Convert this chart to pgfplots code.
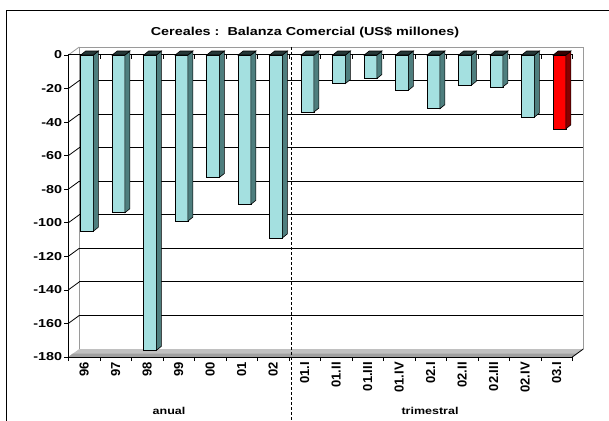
\documentclass[border=0pt]{standalone}
\usepackage{pgfplots}
\pgfplotsset{compat=1.18}
\usepackage{pgfplotstable}
\usepackage{graphicx}
\usepackage{fontspec}
\setmainfont{Liberation Sans}

\definecolor{faceteal}{HTML}{A4E0E0}
\definecolor{sideteal}{HTML}{4E7E7E}
\definecolor{topteal}{HTML}{263838}
\definecolor{facered}{HTML}{FF0000}
\definecolor{sidered}{HTML}{8A0000}
\definecolor{topred}{HTML}{3A0000}
\definecolor{floorgray}{HTML}{C0C0C0}
\definecolor{floordark}{HTML}{A0A0A0}
\definecolor{wallgray}{HTML}{9A9A9A}

% category position (centre of slot) and balance in US$ millions
\pgfplotstableread{
pos   value
0.5   -105
1.5   -94
2.5   -176
3.5   -99
4.5   -73
5.5   -89
6.5   -109
7.5   -34
8.5   -17
9.5   -14
10.5  -21
11.5  -32
12.5  -18
13.5  -19
14.5  -37
}\tealdata
\pgfplotstableread{
pos   value
15.5  -44
}\reddata

% side and top faces of a 3D column, drawn from the bar's bottom point
\pgfdeclareplotmark{box3d}{%
  \pgfsetlinewidth{0.6pt}%
  \pgfsetstrokecolor{black}%
  \pgfsetfillcolor{\sidec}%
  \pgfpathmoveto{\pgfqpoint{9.35pt}{0pt}}%
  \pgfpathlineto{\pgfpoint{9.35pt}{\barh pt}}%
  \pgfpathlineto{\pgfpoint{14.35pt}{\barhh pt}}%
  \pgfpathlineto{\pgfqpoint{14.35pt}{4pt}}%
  \pgfpathclose
  \pgfusepath{fill,stroke}%
  \pgfsetfillcolor{\topc}%
  \pgfpathmoveto{\pgfpoint{-3.35pt}{\barh pt}}%
  \pgfpathlineto{\pgfpoint{9.35pt}{\barh pt}}%
  \pgfpathlineto{\pgfpoint{14.35pt}{\barhh pt}}%
  \pgfpathlineto{\pgfpoint{1.65pt}{\barhh pt}}%
  \pgfpathclose
  \pgfusepath{fill,stroke}%
}
\pgfplotsset{
  box faces/.style 2 args={
    scatter, only marks, mark=box3d,
    visualization depends on={\thisrow{value} \as \rawy},
    scatter/@pre marker code/.code={%
      \pgfkeys{/pgf/fpu=true,/pgf/fpu/output format=fixed}%
      \pgfmathparse{-1*(\rawy)*302/180}\global\let\barh\pgfmathresult
      \pgfmathparse{\barh+4}\global\let\barhh\pgfmathresult
      \pgfkeys{/pgf/fpu=false}%
      \def\sidec{#1}\def\topc{#2}},
    scatter/@post marker code/.code={},
  },
}

\begin{document}
\begin{tikzpicture}[x=1pt,y=-1pt]
\useasboundingbox (0,0) rectangle (609,420);

% outer frame
\draw[black, line width=1pt] (6,430) -- (6,11) -- (620,11);

% title
\node[font=\fontsize{11.5}{13}\selectfont\bfseries] at (305,32)
  {\scalebox{1.25}[1]{Cereales :\ \ Balanza Comercial (US\$ millones)}};

% back wall, grid and left wall
\draw[wallgray, line width=0.8pt] (79.3,349) -- (79.3,47) -- (583.3,47) -- (583.3,349);
\foreach \k in {1,...,8} {
  \draw[black, line width=0.8pt] (79.3,{47+33.556*\k}) -- (583.3,{47+33.556*\k});
  \draw[black, line width=0.8pt] (68.3,{55+33.556*\k}) -- (79.3,{47+33.556*\k});
}
\draw[wallgray, line width=0.8pt] (68.3,55) -- (79.3,47);

% floor
\fill[floorgray] (68.3,357) -- (572.3,357) -- (583.3,349) -- (79.3,349) -- cycle;
\fill[floordark] (68.3,357) -- (572.3,357) -- (576.7,353.6) -- (72.7,353.6) -- cycle;
\draw[black, line width=0.8pt] (572.3,357) -- (583.3,349);

% zero line with its category ticks
\draw[black, line width=1.3pt] (68.3,54.6) -- (572.5,54.6);
\foreach \k in {1,...,16}
  \draw[black, line width=0.6pt] ({68.3+31.5*\k},54.6) -- ({68.3+31.5*\k},58.6);

% separator between annual and quarterly data
\draw[black, line width=0.6pt, dash pattern=on 3pt off 2pt] (291.5,47) -- (291.5,420);

% group labels
\node[font=\fontsize{10}{11}\selectfont\bfseries] at (169,411) {\scalebox{1.25}[1]{anual}};
\node[font=\fontsize{10}{11}\selectfont\bfseries] at (430,411) {\scalebox{1.25}[1]{trimestral}};

\begin{axis}[
  at={(68.3pt,-357pt)}, anchor=south west,
  scale only axis, width=504pt, height=302pt,
  xmin=0, xmax=16, ymin=-180, ymax=0,
  clip=false,
  axis x line*=bottom, axis y line*=left,
  axis line style={-, black, line width=0.8pt},
  tick align=outside, major tick length=4pt,
  tick style={black, line width=0.6pt},
  xtick={0,...,16}, x tick label as interval,
  xticklabels={96,97,98,99,00,01,02,01.I,01.II,01.III,01.IV,02.I,02.II,02.III,02.IV,03.I},
  xticklabel style={rotate=90, anchor=east, inner sep=0pt, xshift=-1pt,
    font=\fontsize{13}{14}\selectfont\bfseries},
  ytick={-180,-160,-140,-120,-100,-80,-60,-40,-20,0},
  yticklabels={\scalebox{1.25}[1]{-180},\scalebox{1.25}[1]{-160},\scalebox{1.25}[1]{-140},
    \scalebox{1.25}[1]{-120},\scalebox{1.25}[1]{-100},\scalebox{1.25}[1]{-80},
    \scalebox{1.25}[1]{-60},\scalebox{1.25}[1]{-40},\scalebox{1.25}[1]{-20},\scalebox{1.25}[1]{0}},
  yticklabel style={anchor=east, inner sep=0pt, xshift=-2pt,
    font=\fontsize{11.5}{12}\selectfont\bfseries},
]
% front faces
\addplot[ybar, bar width=12.7pt, bar shift=3pt, fill=faceteal, draw=black, line width=0.6pt]
  table[x=pos, y=value] {\tealdata};
\addplot[ybar, bar width=12.7pt, bar shift=3pt, fill=facered, draw=black, line width=0.6pt]
  table[x=pos, y=value] {\reddata};
% side and top faces
\addplot[box faces={sideteal}{topteal}] table[x=pos, y=value] {\tealdata};
\addplot[box faces={sidered}{topred}] table[x=pos, y=value] {\reddata};
\end{axis}
\end{tikzpicture}
\end{document}
